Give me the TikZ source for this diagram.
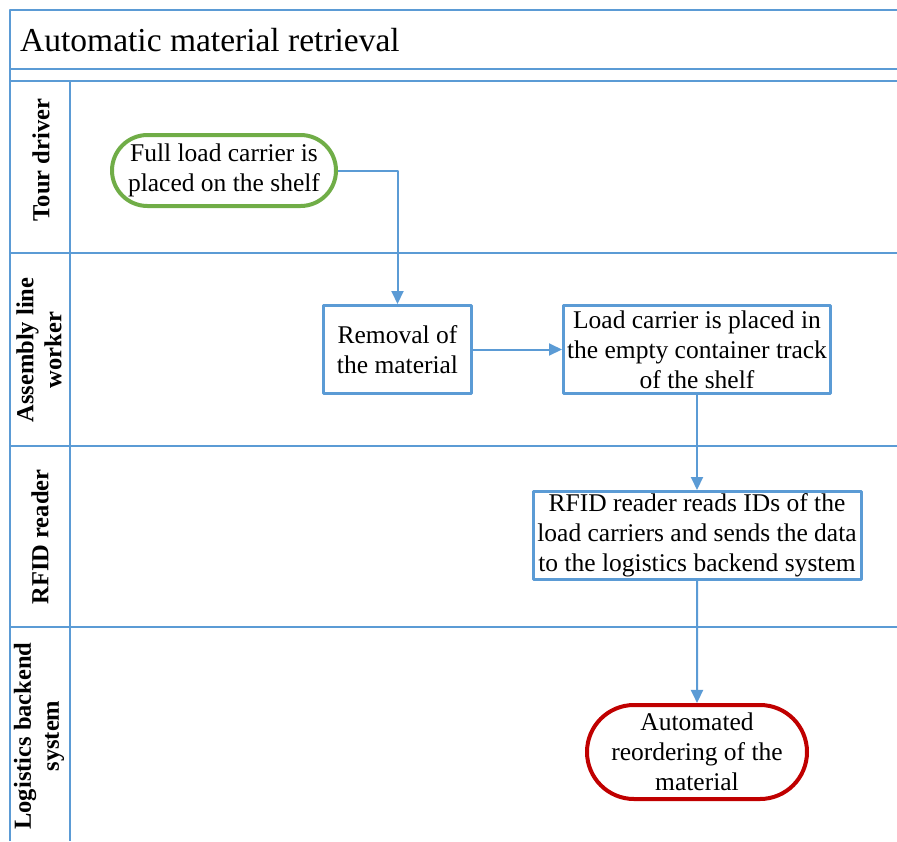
\documentclass[tikz,border=0pt]{standalone}
\usepackage{fontspec}
\setmainfont{Liberation Serif}
\usepackage{tikz}
\usetikzlibrary{arrows.meta, shapes.misc, positioning}
\definecolor{laneblue}{RGB}{91,155,213}
\definecolor{startgreen}{RGB}{112,173,71}
\definecolor{endred}{RGB}{192,0,0}

\begin{document}
\begin{tikzpicture}[x=1pt, y=-1pt, line join=round,
    >={Triangle[length=13pt, width=12pt]},
    lane/.style={draw=laneblue, line width=1.8pt},
    flow/.style={->, draw=laneblue, line width=2pt},
    box/.style={draw=laneblue, line width=3pt, align=center, inner sep=0pt,
        font=\fontsize{25.5}{30}\selectfont},
    terminal/.style={rounded rectangle, line width=4pt, align=center, inner sep=0pt,
        font=\fontsize{25.5}{30}\selectfont},
    lanelabel/.style={rotate=90, align=center,
        font=\bfseries\fontsize{24.5}{28}\selectfont}]
    % Page size: 897 x 841 (1pt per pixel)
    \useasboundingbox (0,0) rectangle (897,841);

    % Pool frame, title row and lanes
    \draw[lane] (10,841) -- (10,10) -- (900,10);
    \draw[lane] (10,69) -- (900,69);
    \draw[lane] (10,81) -- (900,81);
    \draw[lane] (10,253) -- (900,253);
    \draw[lane] (10,446) -- (900,446);
    \draw[lane] (10,627) -- (900,627);
    \draw[lane] (70,81) -- (70,841);

    % Title
    \node[anchor=base west, inner sep=0pt, font=\fontsize{33.5}{40}\selectfont]
        (title) at (20,51) {Automatic material retrieval};

    % Lane names
    \node[lanelabel] (tour) at (41,160) {Tour driver};
    \node[lanelabel] (worker) at (39,350) {Assembly line\\worker};
    \node[lanelabel] (reader) at (40,537) {RFID reader};
    \node[lanelabel] (backend) at (39,736) {Logistics backend\\system};

    % Process steps
    \node[terminal, draw=startgreen, minimum width=224pt, minimum height=71pt]
        (start) at (224,170.5) {Full load carrier is\\placed on the shelf};
    \node[box, minimum width=148pt, minimum height=88pt]
        (removal) at (397.5,349.5) {Removal of\\the material};
    \node[box, minimum width=267pt, minimum height=88pt]
        (placed) at (697,349.5) {Load carrier is placed in\\the empty container track\\of the shelf};
    \node[box, minimum width=328pt, minimum height=88pt]
        (rfid) at (697,535.5) {RFID reader reads IDs of the\\load carriers and sends the data\\to the logistics backend system};
    \node[terminal, draw=endred, minimum width=220pt, minimum height=94pt]
        (reorder) at (697,752) {Automated\\reordering of the\\material};

    % Sequence flow
    \draw[flow] (start.east) -| (removal.north);
    \draw[flow] (removal) -- (placed);
    \draw[flow] (placed) -- (rfid);
    \draw[flow] (rfid) -- (reorder);
\end{tikzpicture}
\end{document}
